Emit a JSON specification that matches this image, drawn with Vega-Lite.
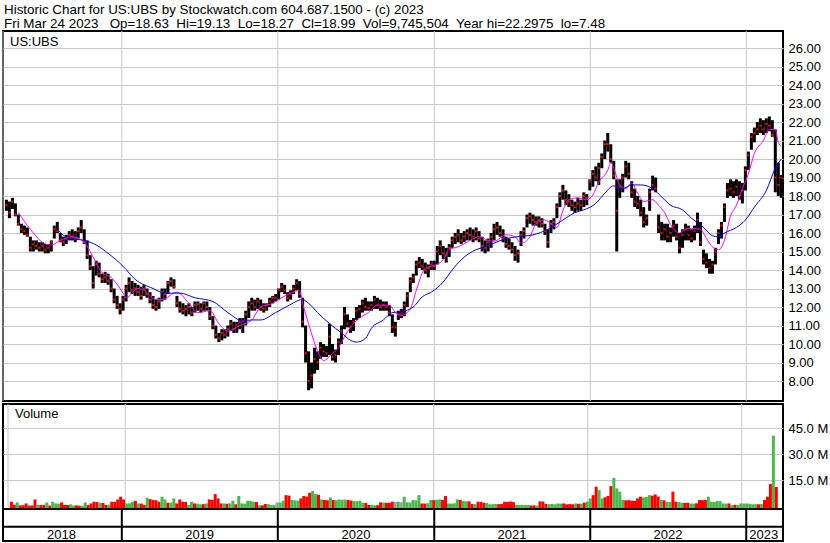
{
"$schema": "https://vega.github.io/schema/vega-lite/v6.json",
"background": "white",
"padding": {"left": 1, "top": 1, "right": 0, "bottom": 0},
"config": {
 "view": {"stroke": "black", "strokeWidth": 2},
 "font": "Liberation Sans",
 "axis": {"labelFont": "Liberation Sans", "labelFontSize": 13, "labelColor": "black", "gridColor": "#c8c8c8", "gridWidth": 1, "gridOpacity": 1, "ticks": false, "domain": false, "labelOverlap": false, "labelBound": false}
},
"datasets": {
 "weeks": [
{"date":"2018-04-06","high":17.8,"low":17.2,"close":17.5,"volume":2.5,"move":"down"},
{"date":"2018-04-13","high":17.7,"low":16.8,"close":17.1,"volume":0.8,"move":"down"},
{"date":"2018-04-20","high":17.9,"low":17.3,"close":17.7,"volume":2.1,"move":"up"},
{"date":"2018-04-27","high":17.6,"low":16.9,"close":17.0,"volume":0.4,"move":"down"},
{"date":"2018-05-04","high":17.0,"low":16.4,"close":16.5,"volume":0.5,"move":"down"},
{"date":"2018-05-11","high":16.5,"low":16.0,"close":16.2,"volume":1.5,"move":"down"},
{"date":"2018-05-18","high":16.4,"low":15.9,"close":16.1,"volume":0.3,"move":"down"},
{"date":"2018-05-25","high":16.3,"low":15.8,"close":15.9,"volume":0.4,"move":"down"},
{"date":"2018-06-01","high":15.8,"low":15.0,"close":15.2,"volume":3.8,"move":"down"},
{"date":"2018-06-08","high":15.6,"low":15.0,"close":15.4,"volume":0.8,"move":"up"},
{"date":"2018-06-15","high":15.6,"low":15.1,"close":15.3,"volume":0.6,"move":"down"},
{"date":"2018-06-22","high":15.5,"low":15.0,"close":15.2,"volume":0.7,"move":"down"},
{"date":"2018-06-29","high":15.5,"low":15.0,"close":15.3,"volume":2.1,"move":"up"},
{"date":"2018-07-06","high":15.4,"low":14.9,"close":15.1,"volume":0.3,"move":"down"},
{"date":"2018-07-13","high":15.4,"low":14.9,"close":15.2,"volume":2.5,"move":"up"},
{"date":"2018-07-20","high":15.6,"low":15.0,"close":15.5,"volume":1.5,"move":"up"},
{"date":"2018-07-27","high":16.4,"low":15.7,"close":16.2,"volume":1.4,"move":"up"},
{"date":"2018-08-03","high":16.6,"low":16.0,"close":16.1,"volume":2.1,"move":"down"},
{"date":"2018-08-10","high":16.0,"low":15.5,"close":15.6,"volume":0.7,"move":"down"},
{"date":"2018-08-17","high":15.8,"low":15.3,"close":15.5,"volume":0.6,"move":"down"},
{"date":"2018-08-24","high":15.9,"low":15.4,"close":15.7,"volume":1.0,"move":"up"},
{"date":"2018-08-31","high":16.1,"low":15.6,"close":15.9,"volume":0.3,"move":"up"},
{"date":"2018-09-07","high":16.2,"low":15.6,"close":15.8,"volume":0.4,"move":"down"},
{"date":"2018-09-14","high":16.1,"low":15.5,"close":15.7,"volume":0.2,"move":"down"},
{"date":"2018-09-21","high":16.3,"low":15.7,"close":16.1,"volume":0.2,"move":"up"},
{"date":"2018-09-28","high":16.7,"low":16.0,"close":16.3,"volume":2.1,"move":"up"},
{"date":"2018-10-05","high":16.2,"low":15.4,"close":15.5,"volume":0.6,"move":"down"},
{"date":"2018-10-12","high":15.6,"low":14.6,"close":14.8,"volume":1.5,"move":"down"},
{"date":"2018-10-19","high":14.8,"low":14.0,"close":14.2,"volume":2.5,"move":"down"},
{"date":"2018-10-26","high":14.2,"low":13.0,"close":13.3,"volume":2.3,"move":"down"},
{"date":"2018-11-02","high":14.5,"low":13.7,"close":14.3,"volume":1.9,"move":"up"},
{"date":"2018-11-09","high":14.4,"low":13.6,"close":13.8,"volume":1.8,"move":"down"},
{"date":"2018-11-16","high":13.8,"low":13.3,"close":13.5,"volume":0.6,"move":"down"},
{"date":"2018-11-23","high":13.9,"low":13.3,"close":13.6,"volume":0.8,"move":"up"},
{"date":"2018-11-30","high":13.8,"low":13.2,"close":13.4,"volume":2.5,"move":"down"},
{"date":"2018-12-07","high":13.5,"low":12.8,"close":13.0,"volume":2.4,"move":"down"},
{"date":"2018-12-14","high":13.0,"low":12.2,"close":12.4,"volume":3.8,"move":"down"},
{"date":"2018-12-21","high":12.6,"low":11.9,"close":12.1,"volume":5.4,"move":"down"},
{"date":"2018-12-28","high":12.2,"low":11.6,"close":11.9,"volume":3.8,"move":"down"},
{"date":"2019-01-04","high":12.6,"low":11.8,"close":12.4,"volume":1.5,"move":"up"},
{"date":"2019-01-11","high":13.2,"low":12.3,"close":13.0,"volume":1.6,"move":"up"},
{"date":"2019-01-18","high":13.6,"low":12.8,"close":13.3,"volume":2.5,"move":"up"},
{"date":"2019-01-25","high":13.4,"low":12.7,"close":12.9,"volume":2.9,"move":"down"},
{"date":"2019-02-01","high":13.3,"low":12.6,"close":13.0,"volume":1.5,"move":"up"},
{"date":"2019-02-08","high":13.2,"low":12.6,"close":12.8,"volume":1.4,"move":"down"},
{"date":"2019-02-15","high":13.1,"low":12.4,"close":12.6,"volume":0.7,"move":"down"},
{"date":"2019-02-22","high":13.2,"low":12.6,"close":13.0,"volume":4.8,"move":"up"},
{"date":"2019-03-01","high":13.0,"low":12.5,"close":12.7,"volume":4.0,"move":"down"},
{"date":"2019-03-08","high":12.8,"low":12.2,"close":12.4,"volume":3.5,"move":"down"},
{"date":"2019-03-15","high":12.6,"low":11.9,"close":12.1,"volume":3.3,"move":"down"},
{"date":"2019-03-22","high":12.4,"low":11.8,"close":12.0,"volume":2.5,"move":"down"},
{"date":"2019-03-29","high":12.5,"low":11.9,"close":12.3,"volume":5.4,"move":"up"},
{"date":"2019-04-05","high":13.0,"low":12.3,"close":12.8,"volume":3.8,"move":"up"},
{"date":"2019-04-12","high":13.0,"low":12.4,"close":12.7,"volume":1.9,"move":"down"},
{"date":"2019-04-19","high":13.4,"low":12.7,"close":13.3,"volume":2.0,"move":"up"},
{"date":"2019-04-26","high":13.6,"low":13.1,"close":13.4,"volume":4.4,"move":"up"},
{"date":"2019-05-03","high":13.5,"low":13.0,"close":13.1,"volume":1.5,"move":"down"},
{"date":"2019-05-10","high":12.6,"low":12.0,"close":12.2,"volume":3.8,"move":"down"},
{"date":"2019-05-17","high":12.3,"low":11.7,"close":11.9,"volume":2.5,"move":"down"},
{"date":"2019-05-24","high":12.2,"low":11.6,"close":11.8,"volume":2.4,"move":"down"},
{"date":"2019-05-31","high":12.1,"low":11.5,"close":11.9,"volume":0.6,"move":"up"},
{"date":"2019-06-07","high":12.2,"low":11.6,"close":12.0,"volume":2.5,"move":"up"},
{"date":"2019-06-14","high":12.0,"low":11.5,"close":11.7,"volume":1.5,"move":"down"},
{"date":"2019-06-21","high":12.3,"low":11.7,"close":12.1,"volume":1.4,"move":"up"},
{"date":"2019-06-28","high":12.3,"low":11.8,"close":12.15,"volume":1.0,"move":"up"},
{"date":"2019-07-05","high":12.2,"low":11.7,"close":11.9,"volume":1.1,"move":"down"},
{"date":"2019-07-12","high":12.3,"low":11.8,"close":12.2,"volume":1.5,"move":"up"},
{"date":"2019-07-19","high":12.3,"low":11.8,"close":12.0,"volume":3.8,"move":"down"},
{"date":"2019-07-26","high":12.0,"low":11.3,"close":11.5,"volume":3.6,"move":"down"},
{"date":"2019-08-02","high":11.5,"low":10.8,"close":11.0,"volume":6.9,"move":"down"},
{"date":"2019-08-09","high":11.0,"low":10.3,"close":10.5,"volume":4.4,"move":"down"},
{"date":"2019-08-16","high":10.6,"low":10.1,"close":10.3,"volume":1.5,"move":"down"},
{"date":"2019-08-23","high":10.8,"low":10.2,"close":10.6,"volume":1.5,"move":"up"},
{"date":"2019-08-30","high":10.8,"low":10.3,"close":10.5,"volume":1.3,"move":"down"},
{"date":"2019-09-06","high":11.0,"low":10.4,"close":10.8,"volume":1.6,"move":"up"},
{"date":"2019-09-13","high":11.3,"low":10.7,"close":11.1,"volume":3.1,"move":"up"},
{"date":"2019-09-20","high":11.2,"low":10.6,"close":10.8,"volume":1.0,"move":"down"},
{"date":"2019-09-27","high":11.2,"low":10.6,"close":11.0,"volume":5.8,"move":"up"},
{"date":"2019-10-04","high":11.4,"low":10.8,"close":11.2,"volume":1.5,"move":"up"},
{"date":"2019-10-11","high":11.4,"low":10.6,"close":11.25,"volume":1.4,"move":"up"},
{"date":"2019-10-18","high":11.8,"low":11.0,"close":11.6,"volume":3.1,"move":"up"},
{"date":"2019-10-25","high":12.3,"low":11.4,"close":12.0,"volume":2.9,"move":"up"},
{"date":"2019-11-01","high":12.5,"low":11.8,"close":12.2,"volume":2.5,"move":"up"},
{"date":"2019-11-08","high":12.4,"low":11.8,"close":12.0,"volume":2.3,"move":"down"},
{"date":"2019-11-15","high":12.5,"low":11.9,"close":12.3,"volume":0.5,"move":"up"},
{"date":"2019-11-22","high":12.4,"low":11.8,"close":12.0,"volume":0.4,"move":"down"},
{"date":"2019-11-29","high":12.2,"low":11.7,"close":11.9,"volume":1.2,"move":"down"},
{"date":"2019-12-06","high":12.2,"low":11.8,"close":12.1,"volume":1.1,"move":"up"},
{"date":"2019-12-13","high":12.5,"low":12.0,"close":12.3,"volume":0.6,"move":"up"},
{"date":"2019-12-20","high":12.6,"low":12.2,"close":12.5,"volume":0.7,"move":"up"},
{"date":"2019-12-27","high":12.7,"low":12.3,"close":12.5,"volume":2.1,"move":"flat"},
{"date":"2020-01-03","high":13.0,"low":12.4,"close":12.9,"volume":2.0,"move":"up"},
{"date":"2020-01-10","high":13.3,"low":12.8,"close":13.1,"volume":3.1,"move":"up"},
{"date":"2020-01-17","high":13.2,"low":12.7,"close":12.9,"volume":6.3,"move":"down"},
{"date":"2020-01-24","high":12.8,"low":12.3,"close":12.5,"volume":6.0,"move":"down"},
{"date":"2020-01-31","high":12.9,"low":12.4,"close":12.7,"volume":3.5,"move":"up"},
{"date":"2020-02-07","high":13.2,"low":12.7,"close":13.0,"volume":3.3,"move":"up"},
{"date":"2020-02-14","high":13.5,"low":12.9,"close":13.3,"volume":3.1,"move":"up"},
{"date":"2020-02-21","high":13.4,"low":12.5,"close":12.7,"volume":4.4,"move":"down"},
{"date":"2020-02-28","high":12.5,"low":10.9,"close":11.2,"volume":5.8,"move":"down"},
{"date":"2020-03-06","high":11.0,"low":9.0,"close":9.5,"volume":5.5,"move":"down"},
{"date":"2020-03-13","high":9.6,"low":7.5,"close":8.0,"volume":7.7,"move":"down"},
{"date":"2020-03-20","high":9.0,"low":7.6,"close":8.3,"volume":8.7,"move":"up"},
{"date":"2020-03-27","high":9.8,"low":8.4,"close":9.2,"volume":6.9,"move":"up"},
{"date":"2020-04-03","high":9.6,"low":8.6,"close":9.0,"volume":6.5,"move":"down"},
{"date":"2020-04-10","high":10.1,"low":9.2,"close":9.8,"volume":3.8,"move":"up"},
{"date":"2020-04-17","high":10.0,"low":9.3,"close":9.6,"volume":3.5,"move":"down"},
{"date":"2020-04-24","high":9.9,"low":9.3,"close":9.5,"volume":3.3,"move":"down"},
{"date":"2020-05-01","high":11.1,"low":9.4,"close":10.4,"volume":5.0,"move":"up"},
{"date":"2020-05-08","high":10.0,"low":9.1,"close":9.3,"volume":3.5,"move":"down"},
{"date":"2020-05-15","high":9.7,"low":9.0,"close":9.4,"volume":3.4,"move":"up"},
{"date":"2020-05-22","high":10.3,"low":9.4,"close":10.1,"volume":3.8,"move":"up"},
{"date":"2020-05-29","high":11.0,"low":10.0,"close":10.7,"volume":3.6,"move":"up"},
{"date":"2020-06-05","high":12.0,"low":10.8,"close":11.6,"volume":3.7,"move":"up"},
{"date":"2020-06-12","high":11.6,"low":10.9,"close":11.1,"volume":3.5,"move":"down"},
{"date":"2020-06-19","high":11.3,"low":10.6,"close":10.9,"volume":3.2,"move":"down"},
{"date":"2020-06-26","high":11.4,"low":10.7,"close":11.2,"volume":2.9,"move":"up"},
{"date":"2020-07-03","high":12.0,"low":11.3,"close":11.8,"volume":2.8,"move":"up"},
{"date":"2020-07-10","high":12.1,"low":11.4,"close":11.9,"volume":3.1,"move":"up"},
{"date":"2020-07-17","high":12.4,"low":11.7,"close":12.2,"volume":1.9,"move":"up"},
{"date":"2020-07-24","high":12.5,"low":11.8,"close":12.0,"volume":1.8,"move":"down"},
{"date":"2020-07-31","high":12.3,"low":11.8,"close":11.95,"volume":0.6,"move":"down"},
{"date":"2020-08-07","high":12.3,"low":11.8,"close":12.1,"volume":0.7,"move":"up"},
{"date":"2020-08-14","high":12.6,"low":11.9,"close":12.4,"volume":0.5,"move":"up"},
{"date":"2020-08-21","high":12.5,"low":11.9,"close":12.1,"volume":0.5,"move":"down"},
{"date":"2020-08-28","high":12.4,"low":11.8,"close":12.0,"volume":2.1,"move":"down"},
{"date":"2020-09-04","high":12.3,"low":11.8,"close":12.1,"volume":2.0,"move":"up"},
{"date":"2020-09-11","high":12.3,"low":11.8,"close":12.0,"volume":1.9,"move":"down"},
{"date":"2020-09-18","high":12.1,"low":11.5,"close":11.7,"volume":1.8,"move":"down"},
{"date":"2020-09-25","high":11.6,"low":10.6,"close":10.9,"volume":2.5,"move":"down"},
{"date":"2020-10-02","high":11.2,"low":10.4,"close":10.9,"volume":2.4,"move":"flat"},
{"date":"2020-10-09","high":11.8,"low":11.3,"close":11.6,"volume":2.5,"move":"up"},
{"date":"2020-10-16","high":11.9,"low":11.4,"close":11.6,"volume":2.2,"move":"flat"},
{"date":"2020-10-23","high":12.3,"low":11.5,"close":12.1,"volume":5.4,"move":"up"},
{"date":"2020-10-30","high":12.8,"low":12.0,"close":12.6,"volume":2.1,"move":"up"},
{"date":"2020-11-06","high":13.6,"low":12.8,"close":13.4,"volume":2.0,"move":"up"},
{"date":"2020-11-13","high":13.8,"low":13.3,"close":13.6,"volume":3.5,"move":"up"},
{"date":"2020-11-20","high":14.5,"low":13.7,"close":14.3,"volume":3.3,"move":"up"},
{"date":"2020-11-27","high":14.7,"low":14.1,"close":14.4,"volume":6.3,"move":"up"},
{"date":"2020-12-04","high":14.6,"low":14.0,"close":14.2,"volume":1.5,"move":"down"},
{"date":"2020-12-11","high":14.4,"low":13.8,"close":14.0,"volume":1.4,"move":"down"},
{"date":"2020-12-18","high":14.3,"low":13.6,"close":14.1,"volume":1.6,"move":"up"},
{"date":"2020-12-25","high":14.5,"low":14.0,"close":14.3,"volume":3.5,"move":"up"},
{"date":"2021-01-01","high":14.5,"low":14.0,"close":14.2,"volume":3.4,"move":"down"},
{"date":"2021-01-08","high":15.3,"low":14.3,"close":15.0,"volume":3.6,"move":"up"},
{"date":"2021-01-15","high":15.6,"low":14.8,"close":15.3,"volume":3.8,"move":"up"},
{"date":"2021-01-22","high":15.3,"low":14.6,"close":14.9,"volume":3.6,"move":"down"},
{"date":"2021-01-29","high":15.2,"low":14.4,"close":14.8,"volume":5.8,"move":"down"},
{"date":"2021-02-05","high":15.4,"low":14.7,"close":15.2,"volume":1.5,"move":"up"},
{"date":"2021-02-12","high":15.8,"low":15.2,"close":15.6,"volume":1.4,"move":"up"},
{"date":"2021-02-19","high":16.0,"low":15.4,"close":15.8,"volume":1.6,"move":"up"},
{"date":"2021-02-26","high":16.2,"low":15.5,"close":15.9,"volume":3.8,"move":"up"},
{"date":"2021-03-05","high":16.0,"low":15.4,"close":15.6,"volume":3.5,"move":"down"},
{"date":"2021-03-12","high":16.1,"low":15.5,"close":15.8,"volume":2.9,"move":"up"},
{"date":"2021-03-19","high":16.2,"low":15.6,"close":16.0,"volume":2.8,"move":"up"},
{"date":"2021-03-26","high":16.3,"low":15.6,"close":15.9,"volume":2.7,"move":"down"},
{"date":"2021-04-02","high":16.2,"low":15.5,"close":15.8,"volume":1.2,"move":"down"},
{"date":"2021-04-09","high":16.3,"low":15.6,"close":16.1,"volume":1.1,"move":"up"},
{"date":"2021-04-16","high":16.1,"low":15.5,"close":15.7,"volume":2.5,"move":"down"},
{"date":"2021-04-23","high":15.8,"low":15.0,"close":15.3,"volume":2.4,"move":"down"},
{"date":"2021-04-30","high":15.6,"low":14.9,"close":15.2,"volume":1.9,"move":"down"},
{"date":"2021-05-07","high":15.7,"low":15.0,"close":15.5,"volume":1.8,"move":"up"},
{"date":"2021-05-14","high":16.0,"low":15.2,"close":15.8,"volume":1.0,"move":"up"},
{"date":"2021-05-21","high":16.5,"low":15.6,"close":16.2,"volume":1.1,"move":"up"},
{"date":"2021-05-28","high":16.6,"low":15.9,"close":16.3,"volume":1.2,"move":"up"},
{"date":"2021-06-04","high":16.4,"low":15.8,"close":16.0,"volume":1.1,"move":"down"},
{"date":"2021-06-11","high":16.2,"low":15.5,"close":15.7,"volume":1.2,"move":"down"},
{"date":"2021-06-18","high":15.8,"low":15.2,"close":15.4,"volume":2.5,"move":"down"},
{"date":"2021-06-25","high":15.7,"low":15.1,"close":15.3,"volume":2.4,"move":"down"},
{"date":"2021-07-02","high":15.5,"low":14.9,"close":15.1,"volume":2.6,"move":"down"},
{"date":"2021-07-09","high":15.3,"low":14.5,"close":14.8,"volume":2.3,"move":"down"},
{"date":"2021-07-16","high":15.1,"low":14.4,"close":14.9,"volume":0.7,"move":"up"},
{"date":"2021-07-23","high":16.1,"low":15.3,"close":15.9,"volume":0.6,"move":"up"},
{"date":"2021-07-30","high":16.3,"low":15.7,"close":16.1,"volume":0.7,"move":"up"},
{"date":"2021-08-06","high":17.0,"low":16.3,"close":16.8,"volume":0.6,"move":"up"},
{"date":"2021-08-13","high":17.1,"low":16.5,"close":16.9,"volume":0.6,"move":"up"},
{"date":"2021-08-20","high":17.0,"low":16.4,"close":16.7,"volume":0.3,"move":"down"},
{"date":"2021-08-27","high":16.9,"low":16.4,"close":16.6,"volume":0.4,"move":"down"},
{"date":"2021-09-03","high":16.9,"low":16.3,"close":16.7,"volume":0.3,"move":"up"},
{"date":"2021-09-10","high":16.8,"low":16.3,"close":16.5,"volume":2.7,"move":"down"},
{"date":"2021-09-17","high":16.5,"low":15.9,"close":16.1,"volume":2.6,"move":"down"},
{"date":"2021-09-24","high":16.2,"low":15.2,"close":15.5,"volume":1.2,"move":"down"},
{"date":"2021-10-01","high":16.7,"low":16.0,"close":16.5,"volume":1.1,"move":"up"},
{"date":"2021-10-08","high":16.8,"low":16.2,"close":16.6,"volume":1.2,"move":"up"},
{"date":"2021-10-15","high":17.6,"low":16.8,"close":17.4,"volume":1.0,"move":"up"},
{"date":"2021-10-22","high":18.2,"low":17.4,"close":18.0,"volume":1.5,"move":"up"},
{"date":"2021-10-29","high":18.6,"low":17.8,"close":18.3,"volume":1.4,"move":"up"},
{"date":"2021-11-05","high":18.3,"low":17.5,"close":17.8,"volume":1.5,"move":"down"},
{"date":"2021-11-12","high":18.1,"low":17.4,"close":17.7,"volume":1.0,"move":"down"},
{"date":"2021-11-19","high":17.8,"low":17.2,"close":17.5,"volume":1.1,"move":"down"},
{"date":"2021-11-26","high":17.7,"low":17.1,"close":17.4,"volume":1.0,"move":"down"},
{"date":"2021-12-03","high":17.9,"low":17.2,"close":17.6,"volume":1.5,"move":"up"},
{"date":"2021-12-10","high":17.8,"low":17.2,"close":17.5,"volume":1.3,"move":"down"},
{"date":"2021-12-17","high":18.2,"low":17.4,"close":18.0,"volume":1.4,"move":"up"},
{"date":"2021-12-24","high":18.1,"low":17.5,"close":17.9,"volume":2.0,"move":"down"},
{"date":"2021-12-31","high":18.9,"low":18.3,"close":18.8,"volume":2.5,"move":"up"},
{"date":"2022-01-07","high":19.4,"low":18.5,"close":19.2,"volume":4.4,"move":"up"},
{"date":"2022-01-14","high":19.6,"low":18.8,"close":19.0,"volume":6.3,"move":"down"},
{"date":"2022-01-21","high":19.8,"low":18.6,"close":19.5,"volume":11.2,"move":"down"},
{"date":"2022-01-28","high":20.3,"low":19.5,"close":20.1,"volume":9.2,"move":"up"},
{"date":"2022-02-04","high":21.0,"low":20.0,"close":20.8,"volume":4.4,"move":"up"},
{"date":"2022-02-11","high":21.4,"low":20.4,"close":20.8,"volume":5.0,"move":"down"},
{"date":"2022-02-18","high":20.8,"low":19.8,"close":20.0,"volume":5.8,"move":"down"},
{"date":"2022-02-25","high":19.9,"low":18.9,"close":19.1,"volume":11.5,"move":"down"},
{"date":"2022-03-04","high":18.9,"low":15.0,"close":17.2,"volume":16.3,"move":"up"},
{"date":"2022-03-11","high":18.9,"low":17.9,"close":18.5,"volume":10.2,"move":"up"},
{"date":"2022-03-18","high":19.2,"low":18.2,"close":19.0,"volume":8.3,"move":"up"},
{"date":"2022-03-25","high":19.9,"low":19.0,"close":19.6,"volume":3.5,"move":"up"},
{"date":"2022-04-01","high":19.8,"low":18.9,"close":19.2,"volume":3.3,"move":"down"},
{"date":"2022-04-08","high":18.8,"low":17.9,"close":18.2,"volume":3.4,"move":"down"},
{"date":"2022-04-15","high":18.4,"low":17.4,"close":17.7,"volume":3.1,"move":"down"},
{"date":"2022-04-22","high":18.0,"low":17.3,"close":17.6,"volume":3.0,"move":"down"},
{"date":"2022-04-29","high":17.8,"low":16.9,"close":17.1,"volume":4.4,"move":"down"},
{"date":"2022-05-06","high":17.4,"low":16.3,"close":16.6,"volume":5.4,"move":"down"},
{"date":"2022-05-13","high":17.0,"low":16.4,"close":16.8,"volume":5.0,"move":"up"},
{"date":"2022-05-20","high":18.4,"low":17.2,"close":18.2,"volume":5.2,"move":"up"},
{"date":"2022-05-27","high":19.1,"low":18.3,"close":18.6,"volume":6.3,"move":"up"},
{"date":"2022-06-03","high":19.0,"low":18.2,"close":18.4,"volume":6.0,"move":"down"},
{"date":"2022-06-10","high":17.0,"low":16.0,"close":16.3,"volume":6.7,"move":"down"},
{"date":"2022-06-17","high":16.6,"low":15.6,"close":16.0,"volume":5.5,"move":"down"},
{"date":"2022-06-24","high":16.5,"low":15.6,"close":16.2,"volume":3.5,"move":"up"},
{"date":"2022-07-01","high":16.5,"low":15.5,"close":15.8,"volume":3.3,"move":"down"},
{"date":"2022-07-08","high":16.3,"low":15.5,"close":16.0,"volume":2.5,"move":"up"},
{"date":"2022-07-15","high":16.7,"low":15.8,"close":16.4,"volume":2.4,"move":"up"},
{"date":"2022-07-22","high":16.5,"low":15.6,"close":15.8,"volume":8.3,"move":"down"},
{"date":"2022-07-29","high":16.0,"low":14.9,"close":15.2,"volume":2.5,"move":"down"},
{"date":"2022-08-05","high":16.2,"low":15.2,"close":15.9,"volume":2.4,"move":"up"},
{"date":"2022-08-12","high":16.5,"low":15.6,"close":16.2,"volume":1.9,"move":"up"},
{"date":"2022-08-19","high":16.4,"low":15.6,"close":15.9,"volume":1.8,"move":"down"},
{"date":"2022-08-26","high":16.2,"low":15.5,"close":15.7,"volume":1.9,"move":"down"},
{"date":"2022-09-02","high":16.4,"low":15.6,"close":16.1,"volume":1.5,"move":"up"},
{"date":"2022-09-09","high":17.1,"low":16.0,"close":16.7,"volume":1.4,"move":"up"},
{"date":"2022-09-16","high":16.6,"low":15.3,"close":15.5,"volume":1.6,"move":"down"},
{"date":"2022-09-23","high":15.1,"low":14.3,"close":14.6,"volume":3.5,"move":"down"},
{"date":"2022-09-30","high":14.9,"low":14.1,"close":14.4,"volume":3.4,"move":"down"},
{"date":"2022-10-07","high":14.6,"low":13.8,"close":14.1,"volume":3.6,"move":"down"},
{"date":"2022-10-14","high":14.5,"low":13.8,"close":14.3,"volume":5.4,"move":"up"},
{"date":"2022-10-21","high":15.2,"low":14.3,"close":15.0,"volume":2.5,"move":"up"},
{"date":"2022-10-28","high":16.2,"low":15.4,"close":16.0,"volume":2.4,"move":"up"},
{"date":"2022-11-04","high":16.6,"low":15.7,"close":16.4,"volume":2.9,"move":"up"},
{"date":"2022-11-11","high":17.6,"low":16.6,"close":17.4,"volume":2.8,"move":"up"},
{"date":"2022-11-18","high":18.7,"low":17.9,"close":18.3,"volume":1.5,"move":"up"},
{"date":"2022-11-25","high":18.9,"low":18.0,"close":18.4,"volume":1.4,"move":"up"},
{"date":"2022-12-02","high":18.8,"low":17.9,"close":18.2,"volume":1.5,"move":"down"},
{"date":"2022-12-09","high":18.9,"low":18.0,"close":18.5,"volume":0.6,"move":"up"},
{"date":"2022-12-16","high":18.8,"low":17.8,"close":18.0,"volume":0.7,"move":"down"},
{"date":"2022-12-23","high":18.7,"low":17.6,"close":18.3,"volume":0.6,"move":"up"},
{"date":"2022-12-30","high":19.6,"low":18.3,"close":19.4,"volume":1.5,"move":"up"},
{"date":"2023-01-06","high":20.4,"low":19.4,"close":20.2,"volume":1.4,"move":"up"},
{"date":"2023-01-13","high":21.4,"low":20.5,"close":21.2,"volume":1.5,"move":"up"},
{"date":"2023-01-20","high":21.7,"low":20.9,"close":21.4,"volume":1.3,"move":"up"},
{"date":"2023-01-27","high":22.0,"low":21.3,"close":21.6,"volume":1.0,"move":"up"},
{"date":"2023-02-03","high":22.2,"low":21.4,"close":21.8,"volume":1.1,"move":"up"},
{"date":"2023-02-10","high":22.1,"low":21.3,"close":21.6,"volume":1.0,"move":"down"},
{"date":"2023-02-17","high":22.2,"low":21.4,"close":21.9,"volume":1.2,"move":"up"},
{"date":"2023-02-24","high":22.3,"low":21.5,"close":21.8,"volume":3.5,"move":"down"},
{"date":"2023-03-03","high":22.1,"low":21.2,"close":21.3,"volume":5.4,"move":"down"},
{"date":"2023-03-10","high":21.6,"low":18.2,"close":19.0,"volume":12.7,"move":"down"},
{"date":"2023-03-17","high":19.8,"low":18.0,"close":18.6,"volume":40.6,"move":"up"},
{"date":"2023-03-24","high":19.13,"low":17.9,"close":18.99,"volume":11.0,"move":"down"}
 ],
 "ma": [
{"date":"2018-05-04","value":17.1,"average":"fast"},
{"date":"2018-06-01","value":16.2,"average":"fast"},
{"date":"2018-06-29","value":15.5,"average":"fast"},
{"date":"2018-07-20","value":15.35,"average":"fast"},
{"date":"2018-08-10","value":15.6,"average":"fast"},
{"date":"2018-09-07","value":15.8,"average":"fast"},
{"date":"2018-10-05","value":15.5,"average":"fast"},
{"date":"2018-10-26","value":14.7,"average":"fast"},
{"date":"2018-11-16","value":13.85,"average":"fast"},
{"date":"2018-12-07","value":13.6,"average":"fast"},
{"date":"2019-01-04","value":12.75,"average":"fast"},
{"date":"2019-01-11","value":12.5,"average":"fast"},
{"date":"2019-02-08","value":13.0,"average":"fast"},
{"date":"2019-02-22","value":12.9,"average":"fast"},
{"date":"2019-03-22","value":12.4,"average":"fast"},
{"date":"2019-04-05","value":12.4,"average":"fast"},
{"date":"2019-05-10","value":12.8,"average":"fast"},
{"date":"2019-06-07","value":12.2,"average":"fast"},
{"date":"2019-06-28","value":11.7,"average":"fast"},
{"date":"2019-07-26","value":11.8,"average":"fast"},
{"date":"2019-08-16","value":11.1,"average":"fast"},
{"date":"2019-09-06","value":10.7,"average":"fast"},
{"date":"2019-10-04","value":11.0,"average":"fast"},
{"date":"2019-11-01","value":11.3,"average":"fast"},
{"date":"2019-11-22","value":12.0,"average":"fast"},
{"date":"2019-12-20","value":12.2,"average":"fast"},
{"date":"2020-01-10","value":12.5,"average":"fast"},
{"date":"2020-01-31","value":12.75,"average":"fast"},
{"date":"2020-02-21","value":12.9,"average":"fast"},
{"date":"2020-02-28","value":12.2,"average":"fast"},
{"date":"2020-03-13","value":11.1,"average":"fast"},
{"date":"2020-03-27","value":10.05,"average":"fast"},
{"date":"2020-04-10","value":9.3,"average":"fast"},
{"date":"2020-04-17","value":9.1,"average":"fast"},
{"date":"2020-05-08","value":9.5,"average":"fast"},
{"date":"2020-05-22","value":9.8,"average":"fast"},
{"date":"2020-06-05","value":10.4,"average":"fast"},
{"date":"2020-06-19","value":10.9,"average":"fast"},
{"date":"2020-07-10","value":11.4,"average":"fast"},
{"date":"2020-07-31","value":11.7,"average":"fast"},
{"date":"2020-08-21","value":12.1,"average":"fast"},
{"date":"2020-09-18","value":12.1,"average":"fast"},
{"date":"2020-10-02","value":11.7,"average":"fast"},
{"date":"2020-10-16","value":11.55,"average":"fast"},
{"date":"2020-11-06","value":11.9,"average":"fast"},
{"date":"2020-11-20","value":12.9,"average":"fast"},
{"date":"2020-12-11","value":14.1,"average":"fast"},
{"date":"2020-12-25","value":14.2,"average":"fast"},
{"date":"2021-01-22","value":14.55,"average":"fast"},
{"date":"2021-02-05","value":15.1,"average":"fast"},
{"date":"2021-02-26","value":15.25,"average":"fast"},
{"date":"2021-03-26","value":15.6,"average":"fast"},
{"date":"2021-04-16","value":15.8,"average":"fast"},
{"date":"2021-05-07","value":15.6,"average":"fast"},
{"date":"2021-05-21","value":15.55,"average":"fast"},
{"date":"2021-06-18","value":15.9,"average":"fast"},
{"date":"2021-07-09","value":15.8,"average":"fast"},
{"date":"2021-07-23","value":15.45,"average":"fast"},
{"date":"2021-08-13","value":15.8,"average":"fast"},
{"date":"2021-08-27","value":16.5,"average":"fast"},
{"date":"2021-09-17","value":16.7,"average":"fast"},
{"date":"2021-10-01","value":16.5,"average":"fast"},
{"date":"2021-10-15","value":16.3,"average":"fast"},
{"date":"2021-10-29","value":17.2,"average":"fast"},
{"date":"2021-11-12","value":17.8,"average":"fast"},
{"date":"2021-12-03","value":17.9,"average":"fast"},
{"date":"2021-12-24","value":17.8,"average":"fast"},
{"date":"2022-01-07","value":18.05,"average":"fast"},
{"date":"2022-01-21","value":18.75,"average":"fast"},
{"date":"2022-02-11","value":19.4,"average":"fast"},
{"date":"2022-02-18","value":19.8,"average":"fast"},
{"date":"2022-02-25","value":19.5,"average":"fast"},
{"date":"2022-03-11","value":18.6,"average":"fast"},
{"date":"2022-03-25","value":18.4,"average":"fast"},
{"date":"2022-04-08","value":18.7,"average":"fast"},
{"date":"2022-04-22","value":18.15,"average":"fast"},
{"date":"2022-05-06","value":17.7,"average":"fast"},
{"date":"2022-05-27","value":17.8,"average":"fast"},
{"date":"2022-06-10","value":17.5,"average":"fast"},
{"date":"2022-06-24","value":17.1,"average":"fast"},
{"date":"2022-07-08","value":16.45,"average":"fast"},
{"date":"2022-07-29","value":16.0,"average":"fast"},
{"date":"2022-08-12","value":16.2,"average":"fast"},
{"date":"2022-08-26","value":16.25,"average":"fast"},
{"date":"2022-09-16","value":16.2,"average":"fast"},
{"date":"2022-09-30","value":15.7,"average":"fast"},
{"date":"2022-10-14","value":15.25,"average":"fast"},
{"date":"2022-10-28","value":15.1,"average":"fast"},
{"date":"2022-11-11","value":15.6,"average":"fast"},
{"date":"2022-11-25","value":16.9,"average":"fast"},
{"date":"2022-12-09","value":17.5,"average":"fast"},
{"date":"2022-12-23","value":18.4,"average":"fast"},
{"date":"2023-01-06","value":19.2,"average":"fast"},
{"date":"2023-01-20","value":20.3,"average":"fast"},
{"date":"2023-02-10","value":21.0,"average":"fast"},
{"date":"2023-02-24","value":21.6,"average":"fast"},
{"date":"2023-03-10","value":21.6,"average":"fast"},
{"date":"2023-03-17","value":20.9,"average":"fast"},
{"date":"2023-03-24","value":20.7,"average":"fast"},
{"date":"2018-08-03","value":16.2,"average":"slow"},
{"date":"2018-08-31","value":15.7,"average":"slow"},
{"date":"2018-10-05","value":15.6,"average":"slow"},
{"date":"2018-11-02","value":15.35,"average":"slow"},
{"date":"2018-11-30","value":14.9,"average":"slow"},
{"date":"2019-01-04","value":14.2,"average":"slow"},
{"date":"2019-02-01","value":13.5,"average":"slow"},
{"date":"2019-03-15","value":13.0,"average":"slow"},
{"date":"2019-04-12","value":12.75,"average":"slow"},
{"date":"2019-05-17","value":12.75,"average":"slow"},
{"date":"2019-06-21","value":12.5,"average":"slow"},
{"date":"2019-08-02","value":12.3,"average":"slow"},
{"date":"2019-09-06","value":11.7,"average":"slow"},
{"date":"2019-10-11","value":11.25,"average":"slow"},
{"date":"2019-11-01","value":11.3,"average":"slow"},
{"date":"2019-11-22","value":11.3,"average":"slow"},
{"date":"2019-12-27","value":11.7,"average":"slow"},
{"date":"2020-01-24","value":12.05,"average":"slow"},
{"date":"2020-02-28","value":12.4,"average":"slow"},
{"date":"2020-03-13","value":12.2,"average":"slow"},
{"date":"2020-04-03","value":11.7,"average":"slow"},
{"date":"2020-05-01","value":11.1,"average":"slow"},
{"date":"2020-05-29","value":10.6,"average":"slow"},
{"date":"2020-06-19","value":10.2,"average":"slow"},
{"date":"2020-07-03","value":10.1,"average":"slow"},
{"date":"2020-07-24","value":10.3,"average":"slow"},
{"date":"2020-08-07","value":10.85,"average":"slow"},
{"date":"2020-09-04","value":11.3,"average":"slow"},
{"date":"2020-09-25","value":11.7,"average":"slow"},
{"date":"2020-10-16","value":11.75,"average":"slow"},
{"date":"2020-11-13","value":12.0,"average":"slow"},
{"date":"2020-12-04","value":12.55,"average":"slow"},
{"date":"2020-12-25","value":12.8,"average":"slow"},
{"date":"2021-01-22","value":13.35,"average":"slow"},
{"date":"2021-02-12","value":14.0,"average":"slow"},
{"date":"2021-03-05","value":14.55,"average":"slow"},
{"date":"2021-04-09","value":15.1,"average":"slow"},
{"date":"2021-04-30","value":15.25,"average":"slow"},
{"date":"2021-05-21","value":15.45,"average":"slow"},
{"date":"2021-06-18","value":15.7,"average":"slow"},
{"date":"2021-07-16","value":15.8,"average":"slow"},
{"date":"2021-08-20","value":15.9,"average":"slow"},
{"date":"2021-09-24","value":16.2,"average":"slow"},
{"date":"2021-10-29","value":16.7,"average":"slow"},
{"date":"2021-11-26","value":17.1,"average":"slow"},
{"date":"2021-12-17","value":17.25,"average":"slow"},
{"date":"2022-01-14","value":17.6,"average":"slow"},
{"date":"2022-02-04","value":18.15,"average":"slow"},
{"date":"2022-02-25","value":18.55,"average":"slow"},
{"date":"2022-03-18","value":18.4,"average":"slow"},
{"date":"2022-04-08","value":18.6,"average":"slow"},
{"date":"2022-04-29","value":18.6,"average":"slow"},
{"date":"2022-05-27","value":18.4,"average":"slow"},
{"date":"2022-06-17","value":17.95,"average":"slow"},
{"date":"2022-07-08","value":17.5,"average":"slow"},
{"date":"2022-08-05","value":17.25,"average":"slow"},
{"date":"2022-08-26","value":16.8,"average":"slow"},
{"date":"2022-09-23","value":16.3,"average":"slow"},
{"date":"2022-10-14","value":15.85,"average":"slow"},
{"date":"2022-10-28","value":15.8,"average":"slow"},
{"date":"2022-11-11","value":16.0,"average":"slow"},
{"date":"2022-12-09","value":16.3,"average":"slow"},
{"date":"2022-12-30","value":16.7,"average":"slow"},
{"date":"2023-01-20","value":17.4,"average":"slow"},
{"date":"2023-02-17","value":18.3,"average":"slow"},
{"date":"2023-03-10","value":19.5,"average":"slow"},
{"date":"2023-03-24","value":20.0,"average":"slow"}
 ],
 "years": [
{"year":"2018","start":"2018-03-29","middle":"2018-08-13"},
{"year":"2019","start":"2019-01-01","middle":"2019-07-02"},
{"year":"2020","start":"2020-01-01","middle":"2020-07-02"},
{"year":"2021","start":"2021-01-01","middle":"2021-07-02"},
{"year":"2022","start":"2022-01-01","middle":"2022-07-02"},
{"year":"2023","start":"2023-01-01","middle":"2023-02-11"}
 ]
},
"spacing": 1,
"bounds": "flush",
"vconcat": [
 {
  "width": 828, "height": 29,
  "data": {"values": [{}]},
  "mark": {"type": "text", "text": ""},
  "title": {
   "text": ["Historic Chart for US:UBS by Stockwatch.com 604.687.1500 - (c) 2023", "Fri Mar 24 2023\u00a0\u00a0 Op=18.63\u00a0 Hi=19.13\u00a0 Lo=18.27\u00a0 Cl=18.99\u00a0 Vol=9,745,504\u00a0 Year hi=22.2975\u00a0 lo=7.48"],
   "anchor": "start", "orient": "top", "offset": -29, "fontSize": 13.4, "font": "Liberation Sans", "fontWeight": "normal", "color": "black", "lineHeight": 13.4, "dx": 1
  }
 },
 {
  "spacing": 3,
  "bounds": "flush",
  "vconcat": [
   {
    "width": 780, "height": 370,
    "layer": [
     {"data": {"name": "years"}, "mark": {"type": "rule", "color": "#c8c8c8", "strokeWidth": 1},
      "encoding": {"x": {"field": "start", "type": "temporal", "scale": {"domain": [{"year": 2018, "month": 3, "date": 29}, {"year": 2023, "month": 3, "date": 28}]}, "axis": null}}},
     {"data": {"name": "weeks"}, "mark": {"type": "rule", "color": "black", "strokeWidth": 3},
      "encoding": {
       "x": {"field": "date", "type": "temporal"},
       "y": {"field": "low", "type": "quantitative", "scale": {"domain": [6.919, 26.919], "nice": false, "zero": false},
             "axis": {"orient": "right", "values": [8,9,10,11,12,13,14,15,16,17,18,19,20,21,22,23,24,25,26], "tickCount": 40, "format": ".2f", "grid": true, "labelPadding": 5, "title": null}},
       "y2": {"field": "high"}
      }},
     {"data": {"name": "weeks"}, "mark": {"type": "square", "color": "#ff0000", "size": 4, "opacity": 1},
      "encoding": {"x": {"field": "date", "type": "temporal"}, "y": {"field": "close", "type": "quantitative"}}},
     {"data": {"name": "ma"}, "transform": [{"filter": "datum.average == 'fast'"}], "mark": {"type": "line", "strokeWidth": 1, "interpolate": "monotone", "color": "#ff00ff"},
      "encoding": {"x": {"field": "date", "type": "temporal"}, "y": {"field": "value", "type": "quantitative"}}},
     {"data": {"name": "ma"}, "transform": [{"filter": "datum.average == 'slow'"}], "mark": {"type": "line", "strokeWidth": 1, "interpolate": "monotone", "color": "#0000ff"},
      "encoding": {"x": {"field": "date", "type": "temporal"}, "y": {"field": "value", "type": "quantitative"}}},
     {"data": {"values": [{}]}, "mark": {"type": "text", "align": "left", "baseline": "top", "dx": 7, "dy": 5, "fontSize": 13, "font": "Liberation Sans", "color": "black"},
      "encoding": {"x": {"datum": {"year": 2018, "month": 3, "date": 29}, "type": "temporal"}, "y": {"datum": 26.919, "type": "quantitative"}, "text": {"value": "US:UBS"}}}
    ]
   },
   {
    "spacing": 0,
    "bounds": "flush",
    "vconcat": [
     {
      "width": 780, "height": 105,
      "layer": [
       {"data": {"name": "years"}, "mark": {"type": "rule", "color": "#c8c8c8", "strokeWidth": 1},
        "encoding": {"x": {"field": "start", "type": "temporal", "scale": {"domain": [{"year": 2018, "month": 3, "date": 29}, {"year": 2023, "month": 3, "date": 28}]}, "axis": null}}},
       {"data": {"name": "weeks"}, "mark": {"type": "bar", "size": 3},
        "encoding": {
         "x": {"field": "date", "type": "temporal"},
         "y": {"field": "volume", "type": "quantitative", "scale": {"domain": [-1.7, 58.9], "nice": false, "zero": false},
               "axis": {"orient": "right", "values": [15, 30, 45], "tickCount": 10, "labelExpr": "format(datum.value, '.1f') + ' M'", "grid": true, "labelPadding": 5, "title": null}},
         "y2": {"datum": -1.7},
         "color": {"field": "move", "type": "nominal", "scale": {"domain": ["up", "down", "flat"], "range": ["#4cb84c", "#ff0000", "#a0a0a0"]}, "legend": null}
        }},
       {"data": {"values": [{}]}, "mark": {"type": "text", "align": "left", "baseline": "top", "dx": 7, "dy": 4, "fontSize": 13, "font": "Liberation Sans", "color": "black"},
        "encoding": {"x": {"datum": {"year": 2018, "month": 3, "date": 29}, "type": "temporal"}, "y": {"datum": 58.9, "type": "quantitative"}, "text": {"value": "Volume"}}}
      ]
     },
     {
      "width": 780, "height": 32,
      "layer": [
       {"data": {"name": "years"}, "mark": {"type": "rule", "color": "black", "strokeWidth": 2},
        "encoding": {"x": {"field": "start", "type": "temporal", "scale": {"domain": [{"year": 2018, "month": 3, "date": 29}, {"year": 2023, "month": 3, "date": 28}]}, "axis": null}}},
       {"data": {"values": [{}]}, "mark": {"type": "rule", "color": "black", "strokeWidth": 2},
        "encoding": {"y": {"datum": 17.7, "type": "quantitative", "scale": {"domain": [0, 32], "reverse": true, "nice": false, "zero": false}, "axis": null}}},
       {"data": {"name": "years"}, "mark": {"type": "text", "fontSize": 13, "font": "Liberation Sans", "baseline": "middle", "color": "black"},
        "encoding": {"x": {"field": "middle", "type": "temporal"}, "y": {"datum": 25.5, "type": "quantitative"}, "text": {"field": "year"}}}
      ]
     }
    ]
   }
  ]
 }
]
}
